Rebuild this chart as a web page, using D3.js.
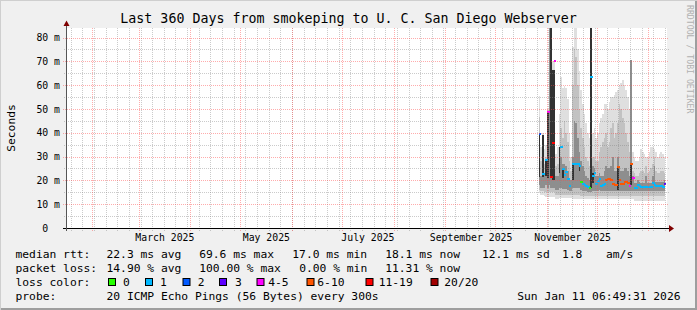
<!DOCTYPE html>
<html>
<head>
<meta charset="utf-8">
<script src="https://cdn.jsdelivr.net/npm/d3@7"></script>
<style>
body { margin: 0; background: #f0f0f0; }
text { font-family: "DejaVu Sans Mono", monospace; fill: #000; }
</style>
</head>
<body>
<svg id="chart" width="697" height="310"></svg>
<script>
// time window of the graph
var endTime = new Date(Date.UTC(2026, 0, 11, 6, 49, 31));
var startTime = new Date(endTime.getTime() - 360 * 864e5);
var firstDay = new Date(Date.UTC(2025, 9, 27)); // first day with data

// y ticks (ms) and month labels
var yTicks = [0, 10, 20, 30, 40, 50, 60, 70, 80];
var labelMonths = ["2025-03", "2025-05", "2025-07", "2025-09", "2025-11"];

// smoke, one value per day (ms)
var smokeLo  = [14.5,14,14,13.5,13,13,13,13,13,13,12,12,12.5,12.5,12.5,12.5,12.5,12.5,12.5,12.5,
                12,12,12,12,12,12,12,12,12,12,12,12,12,12,12,12,12,12,12,12,
                12,12,12,12,12,12,12,12,12,12,12,12,12,12,12,12,12,11.5,11.5,11.5,
                11.5,11.5,11.5,11.5,11.5,11.5,11.5,11.5,11.5,11.5,11.5,11.5,11.5,11.5,11.5,11.5];
var smokeHi  = [55.5,34,40,33,35,50,84,84,70,70,31,34,48,63.6,58.8,59.6,59,54,40,30,
                76,84,84,75,66,58,52,48,44,40,38,84,40,42,38,40,44,46,48,52,
                52,50,53,55,55,56,57,58,60,61,62,60,58,55,50,70.6,32,30,28,28,
                30,33,32,31,30,30,32,34,34,33,32,30,31,32,31,30];
var midLo    = [16,15.5,15.5,15,15,15,15,15,15,15,14,14,14,14,14,14,14,14,14,14,
                14,14,14,14,14,13.5,13.5,13.5,13.5,13.5,13.5,13.5,13.5,13.5,13.5,13.5,13.5,13.5,13.5,13.5,
                13.5,13.5,13.5,13.5,13.5,13.5,13.5,13.5,13.5,13.5,13.5,13.5,13.5,13.5,13.5,13.5,13.5,13.3,13.3,13.3,
                13.3,13.3,13.3,13.3,13.3,13.3,13.3,13.3,13.3,13.3,13.3,13.3,13.3,13.3,13.3,13.3];
var midHi    = [46.5,28,30,27,30,40,84,84,66.5,66.5,26,27,33,42,38,45,40,36,28,24,
                60,75,72,60,50,42,38,34,30,28,26,84,30,30,28,28,32,34,36,38,
                40,34,36,42,44,38,40,44,52,50,46,44,40,36,32,70.6,24,23,22,22,
                23,24,24,23,26,23,24,25,27,30,24,23,23,24,24,23];
var darkLo   = [18,17,17,17,18,17,18,17,17,17,16,16,17,17,16.5,16.5,16.5,16,15.5,15.5,
                17,17,17,17,17,16,15.5,15.5,15.5,15,15,15,15.5,15.5,15.5,15.5,16,15.5,15.5,15.5,
                15.5,15.5,15.5,15.5,15.5,15.5,15.5,15.5,15.5,15.5,15.5,15.5,15.5,15.5,15.5,15.5,15.5,15.4,15.4,15.4,
                15.4,15.4,15.4,15.4,15.4,15.4,15.4,15.4,15.4,15.4,15.4,15.4,15.4,15.4,15.4,15.4];
var darkHi   = [39.5,22,24,23,28,30,84,84,66.5,66.5,22,22,24,30,27,27,26,24,21,20,
                30,45,44,38,32,28,26,24,22,21,20,84,26,25,22,22,23,22,22,24,
                26,25,25,26,30,24,24,30,26,24,24,25,25,24,22,70.6,22,19,19,20,
                19.5,19,19,19,22,19,19,19,22,26,19.5,19.5,19.5,19.5,19.5,20];
var coreLo   = [21.5,null,21.5,null,22,21,null,21,20,20,null,null,23,null,21,null,null,null,null,null,
                20,null,null,null,24,null,null,null,null,null,null,17,19,null,null,null,null,null,null,null,
                null,null,null,null,null,null,null,16,null,null,null,null,null,null,null,18,null,null,null,null,
                null,null,null,null,null,null,null,null,null,null,null,null,null,null,null,null];
var coreHi   = [39.5,null,39,null,28.4,48.8,null,84,66.5,66.5,null,null,34,null,24.6,null,null,null,null,null,
                27,null,null,null,27,null,null,null,null,null,null,84,23,null,null,null,null,null,null,null,
                null,null,null,null,null,null,null,25.8,null,null,null,null,null,null,null,26.8,null,null,null,null,
                null,null,null,null,null,null,null,null,null,null,null,null,null,null,null,null];

// median rtt (ms) and loss bucket per day
var median   = [39.5,null,22.5,null,28.4,48.8,null,21.4,35.6,70,null,null,null,33.9,24.6,22.3,23.6,20.5,17.7,null,
                26.7,26.7,26.7,26.7,26.2,19.5,18.3,18.0,17.6,17.2,16.7,63.6,21.8,23.2,18.3,19.8,20.7,17.8,18.0,18.5,
                20.2,20.6,20.4,20.2,18.5,18.2,17.9,25.8,20.2,18.5,18.5,19.3,19.3,19.0,17.5,26.8,20.8,16.8,16.8,18.0,
                17.6,17.2,17.1,17.1,17.1,17.1,17.2,17.2,18.9,18.2,17.7,17.6,17.5,17.5,17.4,18.3];
var lossIdx  = [2,null,1,null,1,4,null,6,6,4,null,null,null,1,1,1,1,1,1,null,
                1,1,1,1,1,0,1,1,1,1,0,1,1,1,1,1,1,1,1,1,
                5,5,5,5,5,5,5,5,5,5,5,5,5,5,4,5,4,1,1,1,
                1,1,1,1,1,1,1,1,1,1,1,1,1,1,1,3];

var lossLabels = ["0", "1", "2", "3", "4-5", "6-10", "11-19", "20/20"];
var lossColors = ["#26ff00", "#00b8ff", "#0059ff", "#5e00ff", "#ff00ff", "#ff5500", "#ff0000", "#a10000"];

// legend texts
var rowTitles = ["median rtt:", "packet loss:", "loss color:", "probe:"];
var rttStats = ["22.3 ms avg", "69.6 ms max", "17.0 ms min", "18.1 ms now", "12.1 ms sd", "1.8", "am/s"];
var lossStats = ["14.90 % avg", "100.00 % max", "0.00 % min", "11.31 % now"];
var probeText = "20 ICMP Echo Pings (56 Bytes) every 300s";
var stampText = "Sun Jan 11 06:49:31 2026";
var titleText = "Last 360 Days from smokeping to U. C. San Diego Webserver";

var svg = d3.select("#chart");

var x = d3.scaleUtc().domain([startTime, endTime]).range([66.6, 665.8]);
var y = d3.scaleLinear().domain([0, 84]).range([228, 28]);

var days = smokeLo.map(function(v, i) { return d3.utcDay.offset(firstDay, i); });

// frame
svg.append("rect").attr("width", 697).attr("height", 310).attr("fill", "#f0f0f0");
svg.append("rect").attr("x", 695).attr("y", 0).attr("width", 2).attr("height", 310).attr("fill", "#9e9e9e");
svg.append("rect").attr("x", 0).attr("y", 308).attr("width", 697).attr("height", 2).attr("fill", "#9e9e9e");
svg.append("rect").attr("x", 0).attr("y", 0).attr("width", 697).attr("height", 1).attr("fill", "#cfcfcf");
svg.append("rect").attr("x", 0).attr("y", 0).attr("width", 1).attr("height", 310).attr("fill", "#cfcfcf");

// canvas
svg.append("rect").attr("x", 67).attr("y", 28).attr("width", 600).attr("height", 200).attr("fill", "#fff");

// smoke bands, lightest first
function band(loArr, hiArr, color) {
  svg.append("g").attr("shape-rendering", "crispEdges")
    .selectAll("rect")
    .data(days.map(function(d, i) { return i; }).filter(function(i) { return loArr[i] != null && hiArr[i] != null; }))
    .enter().append("rect")
    .attr("x", function(i) { return Math.round(x(days[i])); })
    .attr("width", function(i) { return Math.round(x(d3.utcDay.offset(days[i], 1))) - Math.round(x(days[i])); })
    .attr("y", function(i) { return y(Math.min(hiArr[i], 84)); })
    .attr("height", function(i) { return y(loArr[i]) - y(Math.min(hiArr[i], 84)); })
    .attr("fill", color);
}
band(smokeLo, smokeHi, "#dfdfdf");
band(midLo, midHi, "#c2c2c2");
band(darkLo, darkHi, "#8e8e8e");
band(coreLo, coreHi, "#323232");

// median marks coloured by loss
svg.append("g").attr("shape-rendering", "crispEdges")
  .selectAll("rect")
  .data(days.map(function(d, i) { return i; }).filter(function(i) { return median[i] != null; }))
  .enter().append("rect")
  .attr("x", function(i) { return Math.round(x(days[i])); })
  .attr("width", function(i) { return Math.round(x(d3.utcDay.offset(days[i], 1))) - Math.round(x(days[i])) + 1; })
  .attr("y", function(i) { return Math.round(y(median[i])) - 1; })
  .attr("height", 2)
  .attr("fill", function(i) { return lossColors[lossIdx[i]]; });

// grid on top
var grid = svg.append("g").attr("fill", "none").attr("stroke-dasharray", "1,1");
var minorColor = "rgba(130,130,130,0.42)", majorColor = "rgba(255,70,70,0.45)";

d3.range(5, 84, 10).forEach(function(v) {
  grid.append("line").attr("x1", 64).attr("x2", 669)
    .attr("y1", Math.round(y(v)) + 0.5).attr("y2", Math.round(y(v)) + 0.5).attr("stroke", minorColor);
});
d3.utcSunday.range(startTime, endTime).forEach(function(t) {
  var px = Math.floor(x(t)) + 0.5;
  grid.append("line").attr("x1", px).attr("x2", px).attr("y1", 28).attr("y2", 231).attr("stroke", minorColor);
});
yTicks.filter(function(v) { return v > 0; }).forEach(function(v) {
  grid.append("line").attr("x1", 63).attr("x2", 669)
    .attr("y1", Math.round(y(v)) + 0.5).attr("y2", Math.round(y(v)) + 0.5).attr("stroke", majorColor);
});
d3.utcMonth.range(startTime, endTime).forEach(function(t) {
  var px = Math.floor(x(t)) + 0.5;
  grid.append("line").attr("x1", px).attr("x2", px).attr("y1", 28).attr("y2", 231).attr("stroke", majorColor);
});

// axis lines and arrows
svg.append("line").attr("x1", 63).attr("x2", 670).attr("y1", 228.5).attr("y2", 228.5).attr("stroke", "#000");
svg.append("line").attr("x1", 66.5).attr("x2", 66.5).attr("y1", 231).attr("y2", 24).attr("stroke", "#555");
svg.append("path").attr("d", "M669,225 L674,228.5 L669,232 Z").attr("fill", "#7f0000");
svg.append("path").attr("d", "M63.5,26 L66.5,20.5 L69.5,26 Z").attr("fill", "#7f0000");

// y axis labels
var yAxis = d3.axisLeft(y).tickValues(yTicks).tickSize(0).tickPadding(7)
  .tickFormat(function(v) { return v === 0 ? "0\u00a0\u00a0" : v + " m"; });
var gy = svg.append("g").attr("transform", "translate(67,0)").call(yAxis);
gy.select(".domain").remove();
gy.selectAll("text").attr("font-size", "9.8px").attr("font-family", "DejaVu Sans Mono");

// x axis month labels, centred half a month after the month start
var xTickDates = labelMonths.map(function(m) {
  var p = m.split("-");
  return d3.utcDay.offset(new Date(Date.UTC(+p[0], +p[1] - 1, 1)), 15);
});
var xAxis = d3.axisBottom(x).tickValues(xTickDates).tickSize(0).tickPadding(6)
  .tickFormat(d3.utcFormat("%B %Y"));
var gx = svg.append("g").attr("transform", "translate(0,228)").call(xAxis);
gx.select(".domain").remove();
gx.selectAll("text").attr("font-size", "9.8px").attr("font-family", "DejaVu Sans Mono");

// title and side texts
svg.append("text").attr("x", 348.5).attr("y", 23).attr("text-anchor", "middle")
  .attr("font-size", "13.3px").text(titleText);
svg.append("text").attr("transform", "translate(14.5,128) rotate(-90)").attr("text-anchor", "middle")
  .attr("font-size", "11.3px").text("Seconds");
svg.append("text").attr("transform", "translate(686.5,5) rotate(90)")
  .attr("font-size", "8.2px").style("fill", "#b0b0b0").text("RRDTOOL / TOBI OETIKER");

// legend
var fs = "11.3px";
var rowY = [258, 272, 286, 300];
rowTitles.forEach(function(t, i) {
  svg.append("text").attr("x", 15.5).attr("y", rowY[i]).attr("font-size", fs).text(t);
});
var rttX = [106.5, 199.2, 292.3, 385.2, 481.9, 561.9, 606];
rttStats.forEach(function(t, i) {
  svg.append("text").attr("x", rttX[i]).attr("y", rowY[0]).attr("font-size", fs).text(t);
});
var lossX = [106.5, 199.2, 299.2, 385.2];
lossStats.forEach(function(t, i) {
  svg.append("text").attr("x", lossX[i]).attr("y", rowY[1]).attr("font-size", fs).text(t);
});
var boxX = [108, 145, 182.5, 219, 256.5, 306.5, 365.5, 430.5];
var boxLabelX = [122.9, 160, 197.7, 235, 268.2, 317.3, 378.7, 444.3];
lossLabels.forEach(function(t, i) {
  svg.append("rect").attr("x", boxX[i] + 0.5).attr("y", 278.5).attr("width", 7).attr("height", 7)
    .attr("fill", lossColors[i]).attr("stroke", "#000");
  svg.append("text").attr("x", boxLabelX[i]).attr("y", rowY[2]).attr("font-size", fs).text(t);
});
svg.append("text").attr("x", 106.5).attr("y", rowY[3]).attr("font-size", fs).text(probeText);
svg.append("text").attr("x", 680.5).attr("y", rowY[3]).attr("text-anchor", "end").attr("font-size", fs).text(stampText);
</script>
</body>
</html>
